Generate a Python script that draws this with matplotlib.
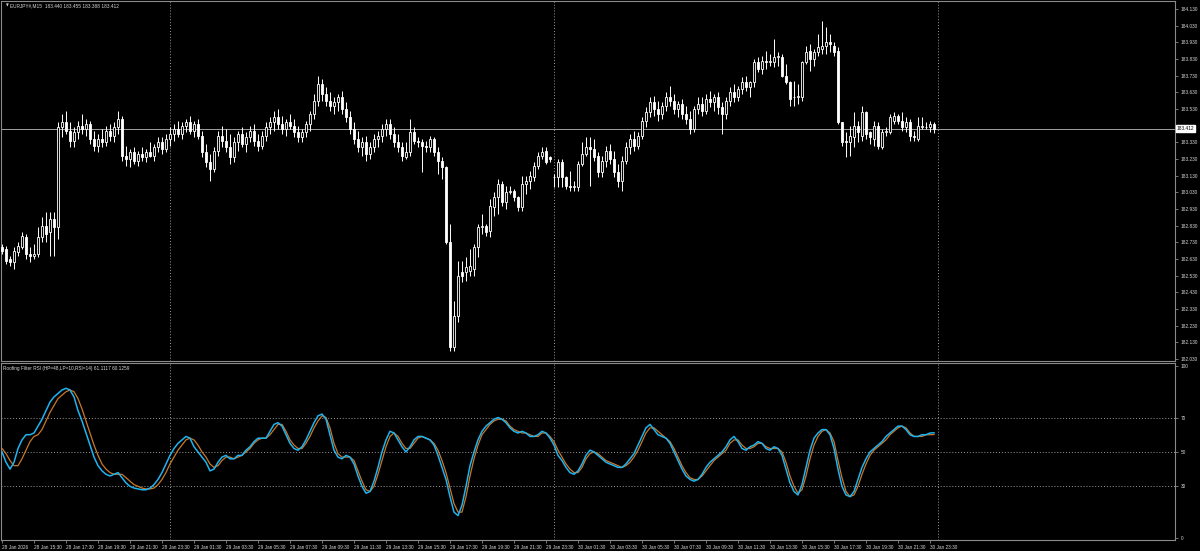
import matplotlib
matplotlib.use("Agg")
import matplotlib.pyplot as plt
import numpy as np

# EURJPY M15, 28 Jan 2026 13:30 .. 30 Jan 2026 23:45 (one bar per 15 minutes)
opens = [
    182.70, 182.69, 182.63, 182.61, 182.67, 182.70, 182.76, 182.66, 182.65, 182.66,
    182.76, 182.83, 182.79, 182.87, 182.82, 183.42, 183.45, 183.40, 183.34, 183.39,
    183.43, 183.41, 183.44, 183.35, 183.31, 183.35, 183.33, 183.40, 183.37, 183.42,
    183.47, 183.25, 183.23, 183.27, 183.22, 183.26, 183.24, 183.27, 183.25, 183.30,
    183.33, 183.29, 183.35, 183.38, 183.41, 183.38, 183.43, 183.45, 183.40, 183.44,
    183.37, 183.27, 183.21, 183.17, 183.28, 183.37, 183.34, 183.30, 183.24, 183.33,
    183.38, 183.32, 183.36, 183.40, 183.34, 183.31, 183.37, 183.42, 183.45, 183.48,
    183.44, 183.41, 183.45, 183.43, 183.39, 183.36, 183.39, 183.44, 183.50, 183.58,
    183.68, 183.62, 183.58, 183.55, 183.57, 183.60, 183.53, 183.48, 183.41, 183.35,
    183.30, 183.33, 183.26, 183.30, 183.35, 183.37, 183.41, 183.44, 183.38, 183.33,
    183.30, 183.24, 183.27, 183.39, 183.34, 183.33, 183.31, 183.30, 183.35, 183.27,
    183.22, 183.18, 182.73, 182.10, 182.29, 182.55, 182.55, 182.56, 182.57, 182.70,
    182.82, 182.83, 182.80, 182.94, 183.00, 183.08, 182.97, 183.03, 183.04, 183.00,
    182.94, 183.08, 183.10, 183.12, 183.19, 183.25, 183.28, 183.24, 183.12, 183.12,
    183.21, 183.12, 183.07, 183.06, 183.06, 183.20, 183.26, 183.30, 183.29, 183.25,
    183.15, 183.22, 183.28, 183.23, 183.15, 183.10, 183.22, 183.30, 183.35, 183.31,
    183.37, 183.46, 183.51, 183.57, 183.53, 183.50, 183.55, 183.60, 183.58, 183.53,
    183.56, 183.50, 183.47, 183.41, 183.53, 183.56, 183.52, 183.59, 183.57, 183.60,
    183.54, 183.50, 183.58, 183.63, 183.60, 183.65, 183.69, 183.66, 183.69, 183.81,
    183.77, 183.82, 183.81, 183.81, 183.84, 183.84, 183.73, 183.69, 183.60, 183.60,
    183.60, 183.81, 183.88, 183.83, 183.87, 183.89, 183.91, 183.93, 183.91, 183.88,
    183.45, 183.34, 183.33, 183.36, 183.43, 183.37, 183.51, 183.39, 183.35, 183.43,
    183.30, 183.39, 183.39, 183.46, 183.49, 183.46, 183.42, 183.45, 183.37, 183.35,
    183.42, 183.42, 183.42, 183.440,
]
highs = [
    182.72, 182.71, 182.65, 182.70, 182.73, 182.79, 182.78, 182.70, 182.72, 182.82,
    182.88, 182.91, 182.91, 182.91, 183.45, 183.50, 183.52, 183.45, 183.42, 183.46,
    183.50, 183.47, 183.46, 183.40, 183.38, 183.41, 183.43, 183.44, 183.45, 183.52,
    183.49, 183.31, 183.29, 183.30, 183.28, 183.30, 183.29, 183.33, 183.32, 183.36,
    183.36, 183.38, 183.42, 183.44, 183.46, 183.45, 183.47, 183.49, 183.46, 183.47,
    183.40, 183.32, 183.26, 183.30, 183.40, 183.43, 183.41, 183.38, 183.36, 183.40,
    183.42, 183.39, 183.43, 183.44, 183.38, 183.40, 183.45, 183.48, 183.52, 183.53,
    183.49, 183.47, 183.50, 183.47, 183.43, 183.41, 183.46, 183.52, 183.62, 183.73,
    183.71, 183.66, 183.63, 183.60, 183.62, 183.64, 183.57, 183.52, 183.45, 183.40,
    183.36, 183.37, 183.33, 183.38, 183.40, 183.44, 183.47, 183.47, 183.42, 183.38,
    183.33, 183.33, 183.47, 183.42, 183.36, 183.35, 183.34, 183.37, 183.36, 183.30,
    183.24, 183.19, 182.84, 182.38, 182.62, 182.62, 182.64, 182.69, 182.72, 182.84,
    182.90, 182.84, 182.99, 183.03, 183.11, 183.10, 183.07, 183.07, 183.05, 183.01,
    183.13, 183.13, 183.16, 183.21, 183.27, 183.30, 183.30, 183.25, 183.14, 183.23,
    183.23, 183.13, 183.16, 183.10, 183.22, 183.33, 183.36, 183.36, 183.35, 183.27,
    183.25, 183.31, 183.32, 183.28, 183.20, 183.25, 183.33, 183.38, 183.40, 183.39,
    183.48, 183.54, 183.60, 183.61, 183.58, 183.57, 183.63, 183.67, 183.62, 183.58,
    183.59, 183.55, 183.52, 183.55, 183.60, 183.60, 183.62, 183.64, 183.62, 183.63,
    183.57, 183.60, 183.66, 183.68, 183.67, 183.72, 183.73, 183.70, 183.83, 183.84,
    183.85, 183.88, 183.86, 183.95, 183.87, 183.86, 183.80, 183.70, 183.70, 183.68,
    183.82, 183.91, 183.92, 183.89, 183.98, 184.06, 184.02, 183.98, 183.93, 183.90,
    183.45, 183.39, 183.43, 183.51, 183.46, 183.55, 183.52, 183.40, 183.46, 183.45,
    183.41, 183.42, 183.50, 183.51, 183.50, 183.51, 183.48, 183.47, 183.40, 183.48,
    183.48, 183.45, 183.46, 183.455,
]
lows = [
    182.66, 182.60, 182.59, 182.57, 182.65, 182.69, 182.63, 182.61, 182.63, 182.64,
    182.73, 182.73, 182.65, 182.65, 182.75, 183.36, 183.38, 183.30, 183.30, 183.35,
    183.38, 183.37, 183.32, 183.28, 183.27, 183.30, 183.31, 183.34, 183.33, 183.38,
    183.22, 183.19, 183.18, 183.20, 183.19, 183.22, 183.21, 183.24, 183.22, 183.27,
    183.26, 183.27, 183.31, 183.34, 183.36, 183.35, 183.39, 183.38, 183.36, 183.35,
    183.24, 183.18, 183.10, 183.15, 183.25, 183.30, 183.27, 183.20, 183.21, 183.28,
    183.30, 183.27, 183.33, 183.31, 183.28, 183.29, 183.34, 183.38, 183.40, 183.41,
    183.38, 183.37, 183.41, 183.36, 183.33, 183.33, 183.36, 183.40, 183.47, 183.55,
    183.58, 183.55, 183.52, 183.50, 183.52, 183.50, 183.45, 183.38, 183.32, 183.27,
    183.25, 183.22, 183.23, 183.27, 183.30, 183.33, 183.37, 183.35, 183.30, 183.27,
    183.22, 183.23, 183.25, 183.32, 183.30, 183.15, 183.27, 183.27, 183.25, 183.14,
    183.11, 182.72, 182.08, 182.08, 182.25, 182.49, 182.50, 182.53, 182.53, 182.64,
    182.78, 182.77, 182.76, 182.89, 182.90, 182.95, 182.93, 183.02, 182.98, 182.92,
    182.92, 183.02, 183.05, 183.10, 183.17, 183.23, 183.20, 183.21, 183.06, 183.06,
    183.06, 183.05, 183.04, 183.04, 183.04, 183.19, 183.25, 183.07, 183.22, 183.12,
    183.12, 183.18, 183.20, 183.12, 183.06, 183.04, 183.20, 183.26, 183.28, 183.29,
    183.35, 183.42, 183.48, 183.49, 183.46, 183.47, 183.52, 183.55, 183.50, 183.48,
    183.47, 183.44, 183.38, 183.39, 183.50, 183.49, 183.50, 183.54, 183.52, 183.50,
    183.38, 183.47, 183.55, 183.57, 183.58, 183.62, 183.64, 183.60, 183.66, 183.75,
    183.74, 183.77, 183.79, 183.78, 183.79, 183.72, 183.68, 183.55, 183.55, 183.56,
    183.58, 183.80, 183.76, 183.79, 183.85, 183.86, 183.86, 183.87, 183.85, 183.44,
    183.31, 183.24, 183.25, 183.30, 183.33, 183.34, 183.35, 183.32, 183.31, 183.29,
    183.29, 183.37, 183.38, 183.44, 183.44, 183.40, 183.39, 183.34, 183.34, 183.34,
    183.41, 183.41, 183.39, 183.388,
]
closes = [
    182.68, 182.62, 182.61, 182.68, 182.71, 182.77, 182.66, 182.65, 182.66, 182.76,
    182.83, 182.78, 182.87, 182.82, 183.42, 183.45, 183.40, 183.34, 183.39, 183.43,
    183.41, 183.44, 183.35, 183.31, 183.35, 183.33, 183.40, 183.37, 183.42, 183.47,
    183.25, 183.23, 183.27, 183.22, 183.26, 183.24, 183.27, 183.25, 183.30, 183.33,
    183.29, 183.35, 183.38, 183.41, 183.38, 183.43, 183.45, 183.40, 183.44, 183.37,
    183.27, 183.21, 183.17, 183.28, 183.37, 183.34, 183.30, 183.24, 183.33, 183.38,
    183.32, 183.36, 183.40, 183.34, 183.31, 183.37, 183.42, 183.45, 183.48, 183.44,
    183.41, 183.45, 183.43, 183.39, 183.36, 183.39, 183.44, 183.50, 183.58, 183.68,
    183.62, 183.58, 183.55, 183.57, 183.60, 183.53, 183.48, 183.41, 183.35, 183.30,
    183.33, 183.26, 183.30, 183.35, 183.37, 183.41, 183.44, 183.38, 183.33, 183.30,
    183.25, 183.27, 183.39, 183.34, 183.33, 183.31, 183.30, 183.35, 183.27, 183.22,
    183.18, 182.73, 182.10, 182.29, 182.53, 182.53, 182.58, 182.59, 182.70, 182.82,
    182.83, 182.79, 182.95, 183.00, 183.08, 182.97, 183.03, 183.04, 183.00, 182.94,
    183.08, 183.10, 183.13, 183.19, 183.25, 183.27, 183.21, 183.23, 183.12, 183.21,
    183.12, 183.07, 183.06, 183.07, 183.20, 183.26, 183.30, 183.29, 183.24, 183.15,
    183.22, 183.28, 183.23, 183.15, 183.10, 183.22, 183.30, 183.35, 183.31, 183.37,
    183.46, 183.51, 183.57, 183.53, 183.50, 183.55, 183.60, 183.58, 183.53, 183.56,
    183.50, 183.47, 183.41, 183.53, 183.56, 183.52, 183.59, 183.57, 183.60, 183.54,
    183.50, 183.58, 183.63, 183.60, 183.65, 183.69, 183.66, 183.69, 183.81, 183.77,
    183.82, 183.81, 183.82, 183.84, 183.85, 183.73, 183.69, 183.59, 183.60, 183.61,
    183.81, 183.87, 183.83, 183.87, 183.90, 183.91, 183.93, 183.92, 183.87, 183.45,
    183.33, 183.33, 183.37, 183.43, 183.39, 183.51, 183.38, 183.36, 183.43, 183.31,
    183.39, 183.40, 183.48, 183.49, 183.46, 183.42, 183.45, 183.37, 183.36, 183.43,
    183.43, 183.42, 183.44, 183.412,
]

# Roofing Filter RSI, two buffers
rsi_main = [
    50, 44, 40, 44, 52, 57, 60, 60, 61, 65, 69, 74, 79, 82, 84, 86, 87, 86, 82, 74,
    68, 61, 54, 47, 42, 39, 37, 36, 37, 38, 35, 32, 30, 29, 28.5, 28, 28, 29, 31, 34,
    38, 43, 48, 52, 55, 57, 59, 58, 53, 50, 47, 44, 39, 40, 44, 47, 48, 46, 46, 48,
    48, 51, 53, 56, 58, 58, 58, 62, 66, 67, 65, 60, 55, 52, 51, 53, 57, 62, 67, 71,
    72, 69, 60, 51, 47, 46, 48, 47, 43, 36, 30, 26, 27, 33, 41, 50, 57, 62, 61, 57,
    53, 50, 53, 57, 59, 59, 58, 57, 54, 48, 41, 34, 24, 15, 13, 19, 30, 42, 50, 57,
    62, 65, 67, 69, 70, 69, 67, 64, 62, 61, 62, 61, 59, 59, 60, 62, 61, 58, 54, 48,
    45, 41, 38, 37, 39, 43, 48, 51, 50, 48, 46, 44, 43, 42, 41, 41, 43, 46, 49, 54,
    59, 64, 66, 63, 60, 59, 58, 55, 50, 45, 40, 36, 34, 33, 34, 37, 41, 44, 46, 48,
    50, 53, 57, 59, 56, 52, 51, 53, 54, 56, 55, 52, 51, 53, 52, 48, 40, 32, 27, 25,
    31, 41, 51, 58, 61, 63, 63, 60, 52, 40, 30, 25, 24, 27, 34, 41, 46, 50, 52, 54,
    56, 59, 61, 63, 65, 65, 63, 60, 59, 59, 60, 60, 61, 61.1117,
]
rsi_signal = [
    52, 49, 45, 42, 42, 46, 51, 56, 59, 60, 63, 68, 73, 77, 81, 83, 85, 86, 85, 81,
    75, 68, 61, 54, 48, 43, 40, 38, 37, 37, 37, 35, 33, 31, 30, 29, 28.5, 28.5, 29, 31,
    34, 38, 43, 47, 51, 54, 57, 58, 57, 54, 50, 47, 43, 41, 42, 45, 47, 47, 46, 47,
    48, 50, 52, 55, 57, 58, 58, 60, 63, 66, 66, 62, 57, 54, 52, 52, 55, 59, 64, 68,
    71, 70, 64, 55, 49, 47, 47, 47, 45, 39, 33, 28, 27, 30, 37, 45, 53, 59, 61, 59,
    55, 52, 52, 55, 58, 59, 58, 57, 55, 51, 45, 38, 29, 20, 15, 15, 24, 36, 46, 54,
    60, 63, 66, 68, 69, 69, 68, 65, 63, 62, 61, 61, 60, 59, 59, 61, 61, 59, 56, 51,
    47, 43, 40, 38, 38, 41, 46, 49, 50, 49, 47, 45, 44, 43, 42, 41, 42, 44, 47, 51,
    56, 61, 64, 64, 62, 60, 58, 56, 52, 47, 42, 38, 35, 34, 34, 36, 39, 42, 45, 47,
    49, 51, 55, 57, 57, 54, 52, 52, 53, 55, 55, 53, 52, 52, 52, 50, 44, 36, 30, 26,
    28, 36, 46, 54, 59, 62, 63, 61, 56, 45, 35, 27, 24, 25, 30, 37, 43, 48, 51, 53,
    55, 57, 60, 62, 64, 65, 64, 61, 59, 59, 59, 60, 60, 60.1259,
]

price_ticks = [182.03 + 0.1 * k for k in range(22)]
rsi_ticks = [0, 30, 50, 70, 100]
rsi_levels = [30, 50, 70]
day_breaks = [42, 138, 234]
start_time = np.datetime64("2026-01-28T13:30")
last_price = 183.412

W, H = 1200, 551
BG = "black"
FG = "#d8d8d8"
FRAME = "#8a8a8a"
FONT = ["Liberation Sans", "DejaVu Sans"]
FS = 3.4

fig = plt.figure(figsize=(W / 100, H / 100), dpi=100, facecolor=BG)


def px_axes(x0, y0, x1, y1):
    return fig.add_axes([x0 / W, 1 - y1 / H, (x1 - x0) / W, (y1 - y0) / H])


ax = px_axes(1, 1, 1175, 361)
ax2 = px_axes(1, 363, 1175, 540)
n = len(closes)
xs = np.arange(n)

for a in (ax, ax2):
    a.set_facecolor(BG)
    a.set_xlim(-0.25, 293.25)
    for s in a.spines.values():
        s.set_color(FRAME)
        s.set_linewidth(0.8)
    a.yaxis.tick_right()
    a.tick_params(axis="y", direction="out", length=2.5, width=0.6, colors=FRAME,
                  labelcolor=FG, labelsize=FS, pad=1.5)
    for d in day_breaks:
        a.axvline(d, color="#9a9a9a", lw=0.7, ls=(0, (1, 2)), zorder=1)

# candles: hollow = up bar, filled = down bar
o = np.array(opens); c = np.array(closes)
bull = c >= o
ax.vlines(xs, lows, highs, color="white", lw=0.7, zorder=2)
body_lo = np.minimum(o, c)
body_h = np.maximum(np.abs(c - o), 0.004)
ax.bar(xs[bull], body_h[bull], bottom=body_lo[bull], width=0.7,
       color="black", edgecolor="white", linewidth=0.6, zorder=3)
ax.bar(xs[~bull], body_h[~bull], bottom=body_lo[~bull], width=0.7,
       color="white", edgecolor="white", linewidth=0.6, zorder=3)

ax.set_ylim(182.018, 184.178)
ax.set_yticks(price_ticks)
# the 183.430 label sits under the last-price box, as in the terminal
ax.set_yticklabels(["" if abs(v - 183.43) < 1e-6 else f"{v:.3f}" for v in price_ticks],
                   fontfamily=FONT)
ax.set_xticks([])
ax.axhline(last_price, color="#a0a0a0", lw=0.7, zorder=1)
ax.annotate(f"{last_price:.3f}", xy=(1, last_price), xycoords=("axes fraction", "data"),
            xytext=(1.2, 0), textcoords="offset points", ha="left", va="center",
            fontsize=FS, color="black", family=FONT, annotation_clip=False,
            bbox=dict(boxstyle="square,pad=0.15", fc="white", ec="white"))
ax.text(0.004, 0.992, "\u25BC", transform=ax.transAxes, fontsize=2.6, color=FG,
        ha="left", va="top", family=["DejaVu Sans"])
ax.text(0.0075, 0.993, "EURJPY#,M15  183.440 183.455 183.388 183.412",
        transform=ax.transAxes, fontsize=FS, color=FG, ha="left", va="top", family=FONT)

# indicator pane
ax2.plot(xs, rsi_signal, color="#c8782a", lw=0.9, zorder=3)
ax2.plot(xs, rsi_main, color="#1eb4f0", lw=1.1, zorder=4)
for lv in rsi_levels:
    ax2.axhline(lv, color="#9a9a9a", lw=0.7, ls=(0, (1, 2)), zorder=1)
ax2.set_ylim(-1.2, 101.7)
ax2.set_yticks(rsi_ticks)
ax2.set_yticklabels([str(v) for v in rsi_ticks], fontfamily=FONT)
ax2.text(0.002, 0.985, "Roofing Filter RSI (HP=48,LP=10,RSI=14) 61.1117 60.1259",
         transform=ax2.transAxes, fontsize=FS, color=FG, ha="left", va="top", family=FONT)

# time axis: a label every 2 hours
tick_bars = list(range(0, n, 8))
labels = []
for b in tick_bars:
    t = (start_time + np.timedelta64(15 * b, "m")).astype(object)
    labels.append("28 Jan 2026" if b == 0 else t.strftime("%d Jan %H:%M"))
ax2.set_xticks(tick_bars)
ax2.set_xticklabels(labels, fontfamily=FONT)
ax2.tick_params(axis="x", direction="out", length=2.5, width=0.6, colors=FRAME,
                labelcolor=FG, labelsize=FS, pad=1.2)
for lab in ax2.get_xticklabels():
    lab.set_ha("left")

fig.savefig("out.png", dpi=100, facecolor=BG)
